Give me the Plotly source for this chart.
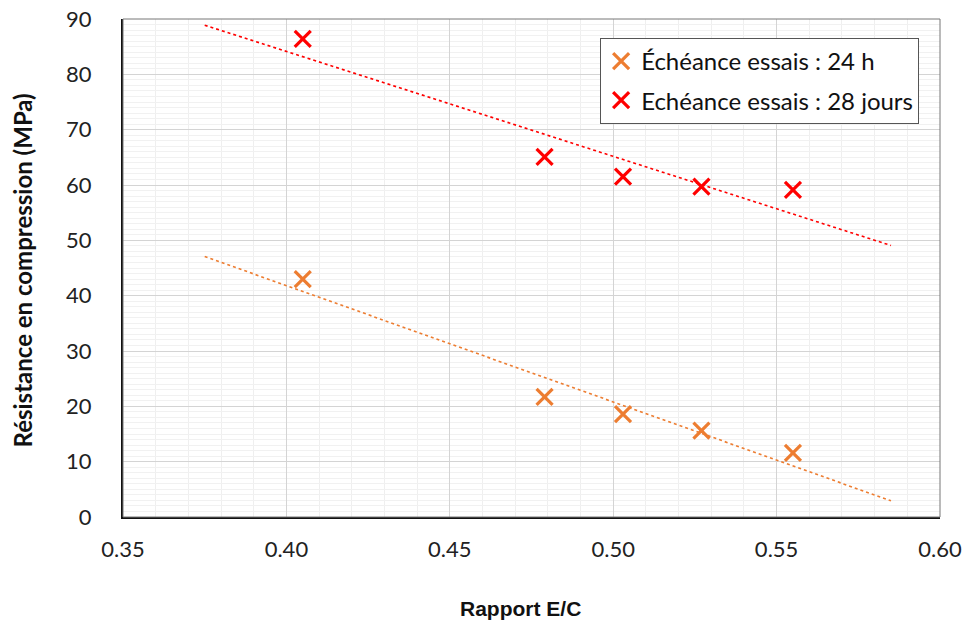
import numpy as np
import plotly.graph_objects as go

# Data
ratio_ec = [0.405, 0.479, 0.503, 0.527, 0.555]
res_24h = [43.0, 21.7, 18.6, 15.6, 11.6]
res_28j = [86.4, 65.1, 61.5, 59.7, 59.1]
trend_range = [0.375, 0.585]
series_names = ["Échéance essais : 24 h", "Echéance essais : 28 jours"]
x_ticks = [0.35, 0.40, 0.45, 0.50, 0.55, 0.60]
x_ticktext = ["0.35", "0.40", "0.45", "0.50", "0.55", "0.60"]
y_ticks = [0, 10, 20, 30, 40, 50, 60, 70, 80, 90]

c_orange = "#ED7D31"
c_red = "#FF0000"

fig = go.Figure()

def trend(xs, ys):
    a, b = np.polyfit(xs, ys, 1)
    tx = np.array(trend_range)
    return tx, a * tx + b

series = [(res_24h, c_orange, series_names[0]), (res_28j, c_red, series_names[1])]

for ys, col, name in series:
    tx, ty = trend(ratio_ec, ys)
    fig.add_trace(go.Scatter(x=tx, y=ty, mode="lines", showlegend=False, hoverinfo="skip",
                             line=dict(color=col, width=1.6, dash="dot")))

for i, (ys, col, name) in enumerate(series):
    fig.add_trace(go.Scatter(x=ratio_ec, y=ys, mode="markers", name=name, legendgroup=f"g{i}",
                             marker=dict(symbol="x-thin", size=16, color=col,
                                         line=dict(color=col, width=3.2))))

fig.update_layout(
    width=965, height=622,
    paper_bgcolor="white", plot_bgcolor="white",
    margin=dict(l=123, r=25, t=19, b=105, autoexpand=False),
    font=dict(family="Lato, Open Sans, sans-serif", color="#222"),
    legend=dict(x=0.584, y=0.962, xanchor="left", yanchor="top",
                bgcolor="white", bordercolor="#555", borderwidth=1,
                font=dict(size=24, family="Lato, sans-serif", color="#111"),
                tracegroupgap=5, itemwidth=30),
    showlegend=True,
)

fig.update_xaxes(range=[0.35, 0.60], tickvals=x_ticks, ticktext=x_ticktext, automargin=False,
                 showgrid=True, gridcolor="#d4d4d4", gridwidth=1,
                 minor=dict(dtick=0.01, showgrid=True, gridcolor="#efefef", gridwidth=1),
                 showline=True, linecolor="#111", linewidth=2, zeroline=False,
                 ticks="", ticklabelstandoff=12, ticklabeloverflow="allow",
                 tickfont=dict(size=22, family="Lato, sans-serif", color="#222"))
fig.update_yaxes(range=[0, 90], tickvals=y_ticks, automargin=False,
                 showgrid=True, gridcolor="#d4d4d4", gridwidth=1,
                 minor=dict(dtick=1, showgrid=True, gridcolor="#f1f1f1", gridwidth=1),
                 showline=True, linecolor="#111", linewidth=2, zeroline=False,
                 ticks="", ticklabelstandoff=25, ticklabeloverflow="allow",
                 tickfont=dict(size=22, family="Lato, sans-serif", color="#222"))

fig.add_annotation(text="<b>Rapport E/C</b>", xref="paper", yref="paper",
                   x=0.486, y=-0.183, xanchor="center", yanchor="middle", showarrow=False,
                   font=dict(size=21, family="Liberation Sans, Arial, sans-serif", color="#111"))
fig.add_annotation(text="<b>Résistance en compression (MPa)</b>", xref="paper", yref="paper",
                   x=-0.123, y=0.494, xanchor="center", yanchor="middle", showarrow=False,
                   textangle=-90,
                   font=dict(size=24, family="Lato, sans-serif", color="#111"))

fig.add_shape(type="rect", xref="paper", yref="paper", x0=0, y0=0, x1=1, y1=1,
              line=dict(color="#777", width=1), layer="above")

fig.write_html("out.html", config={"displayModeBar": False},
               post_script="document.body.style.margin='0';document.body.style.overflow='hidden';")
